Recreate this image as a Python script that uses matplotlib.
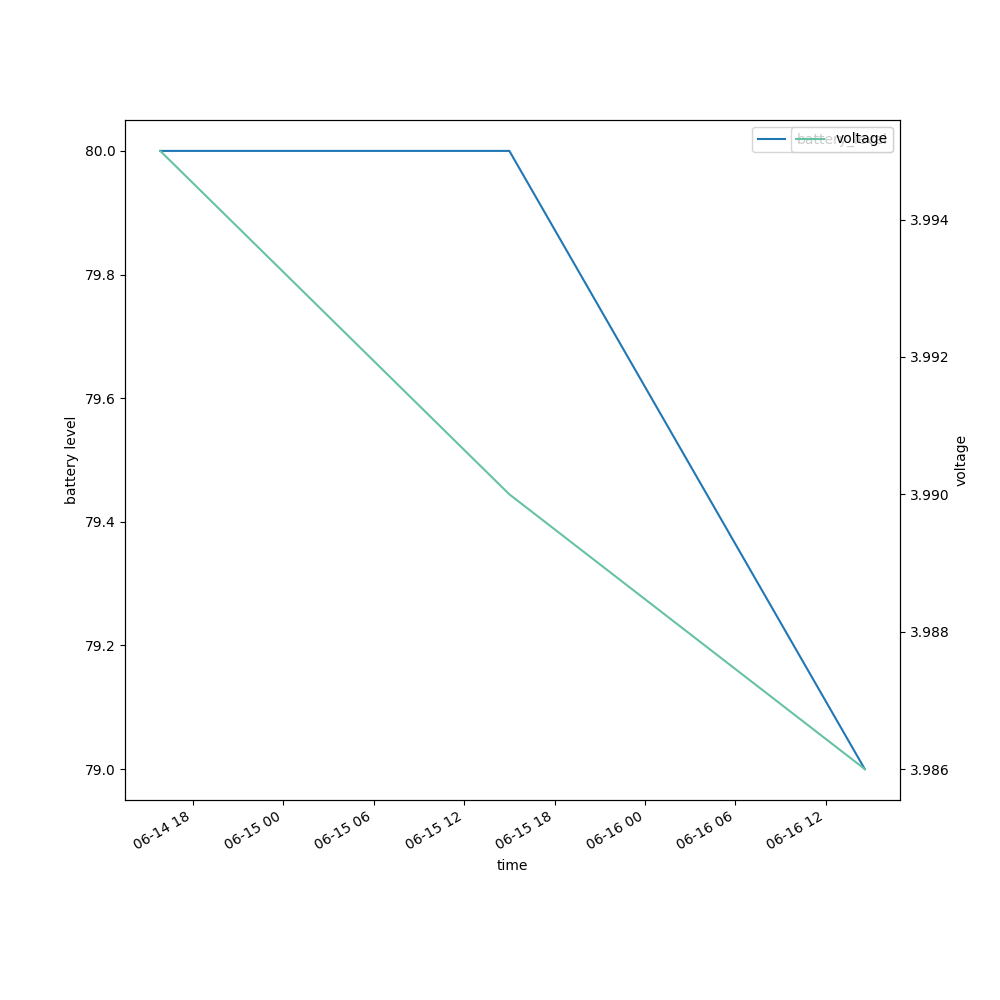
import matplotlib
matplotlib.use("Agg")
import matplotlib.pyplot as plt
import pandas as pd

times = pd.to_datetime(["2023-06-14 15:50", "2023-06-15 15:00", "2023-06-16 14:35"])
battery_level = [80, 80, 79]
voltage = [3.995, 3.990, 3.986]

fig, ax1 = plt.subplots(figsize=(10, 10), dpi=100)
ax1.plot(times, battery_level, color="C0", label="battery_level")
ax1.set_xlabel("time")
ax1.set_ylabel("battery level")
ax1.legend(loc="upper right")

ax2 = ax1.twinx()
ax2.plot(times, voltage, color="#66c2a5", label="voltage")
ax2.set_ylabel("voltage")
ax2.legend(loc="upper right")

fig.autofmt_xdate()
fig.savefig("out.png")
